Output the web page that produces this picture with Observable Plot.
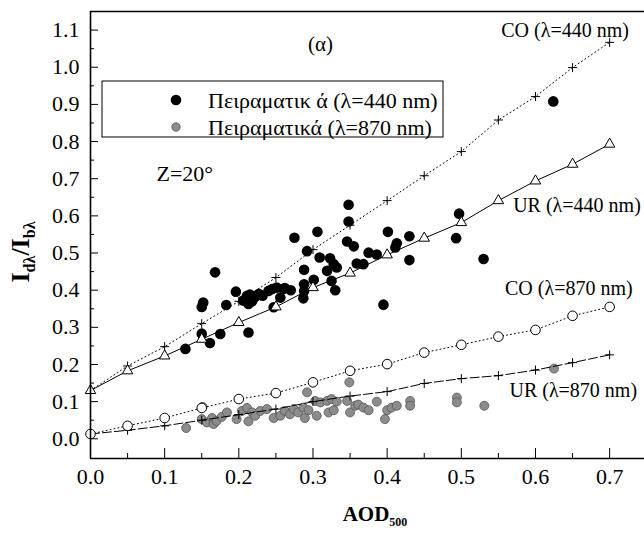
<!DOCTYPE html>
<html><head><meta charset="utf-8">
<script src="https://cdn.jsdelivr.net/npm/d3@7"></script>
<script src="https://cdn.jsdelivr.net/npm/@observablehq/plot@0.6"></script>
<style>body{margin:0;background:#fff}</style>
</head><body><div id="chart"></div>
<script>
// Model curves (AOD500 grid)
const aodModel = [0,0.05,0.1,0.15,0.2,0.25,0.3,0.35,0.4,0.45,0.5,0.55,0.6,0.65,0.7];
const co440 = [0.13,0.196,0.248,0.310,0.37,0.434,0.509,0.575,0.641,0.708,0.773,0.858,0.921,0.999,1.067];
const ur440 = [0.13,0.183,0.223,0.268,0.313,0.355,0.407,0.446,0.495,0.540,0.582,0.641,0.694,0.739,0.793];
const co870 = [0.013,0.035,0.056,0.083,0.107,0.123,0.152,0.183,0.201,0.232,0.253,0.275,0.293,0.331,0.355];
const ur870 = [0.013,0.023,0.035,0.05,0.065,0.08,0.1,0.115,0.127,0.149,0.162,0.170,0.185,0.205,0.226];

// Measurements λ=440 nm
const meas440X = [0.128,0.150,0.161,0.175,0.213,0.150,0.152,0.168,0.183,0.196,0.206,0.213,0.211,0.215,0.222,0.227,0.218,0.232,0.240,0.245,0.251,0.260,0.256,0.262,0.247,0.270,0.275,0.287,0.288,0.288,0.288,0.292,0.301,0.306,0.309,0.319,0.323,0.328,0.332,0.325,0.330,0.348,0.348,0.346,0.355,0.359,0.368,0.375,0.386,0.395,0.401,0.411,0.413,0.430,0.430,0.493,0.497,0.530,0.624];
const meas440Y = [0.242,0.283,0.258,0.282,0.286,0.355,0.367,0.448,0.360,0.396,0.372,0.363,0.385,0.388,0.382,0.390,0.370,0.385,0.398,0.403,0.407,0.403,0.380,0.406,0.354,0.400,0.541,0.378,0.398,0.416,0.455,0.505,0.428,0.557,0.488,0.452,0.486,0.470,0.461,0.425,0.400,0.630,0.585,0.531,0.518,0.472,0.470,0.501,0.496,0.361,0.557,0.515,0.526,0.545,0.481,0.540,0.606,0.484,0.908];

// Measurements λ=870 nm
const meas870X = [0.129,0.151,0.150,0.157,0.164,0.166,0.170,0.177,0.184,0.197,0.204,0.211,0.218,0.213,0.222,0.229,0.238,0.247,0.256,0.262,0.269,0.274,0.280,0.289,0.292,0.287,0.294,0.303,0.305,0.310,0.319,0.321,0.325,0.328,0.332,0.349,0.346,0.350,0.357,0.361,0.368,0.375,0.386,0.397,0.400,0.406,0.413,0.431,0.431,0.494,0.494,0.531,0.625];
const meas870Y = [0.029,0.086,0.053,0.044,0.056,0.040,0.048,0.059,0.071,0.053,0.075,0.083,0.071,0.047,0.062,0.075,0.080,0.056,0.062,0.075,0.066,0.080,0.071,0.056,0.125,0.084,0.077,0.102,0.062,0.098,0.102,0.071,0.107,0.077,0.100,0.152,0.102,0.071,0.089,0.092,0.084,0.077,0.100,0.053,0.077,0.084,0.089,0.102,0.089,0.111,0.098,0.089,0.189];

const xMajor = [0,0.1,0.2,0.3,0.4,0.5,0.6,0.7];
const xMinor = [0.05,0.15,0.25,0.35,0.45,0.55,0.65];
const yMajor = [0,0.1,0.2,0.3,0.4,0.5,0.6,0.7,0.8,0.9,1.0,1.1];
const yMinor = [0.05,0.15,0.25,0.35,0.45,0.55,0.65,0.75,0.85,0.95,1.05];

const curveLabels = ["CO (λ=440 nm)", "UR (λ=440 nm)", "CO (λ=870 nm)", "UR (λ=870 nm)"];
const legendLabels = ["Πειραματικ ά (λ=440 nm)", "Πειραματικά (λ=870 nm)"];

const xDomain = [0, 0.747];
const yDomain = [-0.053, 1.15];

const model = aodModel.map((a, i) => ({a, co440: co440[i], ur440: ur440[i], co870: co870[i], ur870: ur870[i]}));
const modelNoZero = model.filter(d => d.a > 0);
const m440 = meas440X.map((x, i) => ({x, y: meas440Y[i]}));
const m870 = meas870X.map((x, i) => ({x, y: meas870Y[i]}));

// annotation anchors (data coords)
const curveLabelPos = [[0.726,1.098],[0.742,0.627],[0.731,0.404],[0.737,0.129]];
const annot = curveLabels.map((t, i) => ({t, x: curveLabelPos[i][0], y: curveLabelPos[i][1]}));

const serif = "Liberation Serif";
const grayFill = "#8c8c8c", grayStroke = "#555";

const plot = Plot.plot({
  width: 644, height: 540,
  marginLeft: 90, marginRight: 0, marginTop: 11, marginBottom: 82,
  style: {fontFamily: serif, fontSize: "22px", background: "white", color: "black"},
  x: {domain: xDomain},
  y: {domain: yDomain},
  marks: [
    Plot.dot(m870, {x: "x", y: "y", r: 4.5, fill: grayFill, stroke: grayStroke, strokeWidth: 0.8}),
    Plot.dot(m440, {x: "x", y: "y", r: 5.3, fill: "black"}),
    Plot.line(model, {x: "a", y: "co440", stroke: "black", strokeWidth: 1, strokeDasharray: "1,3"}),
    Plot.line(model, {x: "a", y: "ur440", stroke: "black", strokeWidth: 1}),
    Plot.line(model, {x: "a", y: "co870", stroke: "black", strokeWidth: 1, strokeDasharray: "1,3"}),
    Plot.line(model, {x: "a", y: "ur870", stroke: "black", strokeWidth: 1, strokeDasharray: "9,3"}),
    Plot.dot(modelNoZero, {x: "a", y: "co440", symbol: "plus", r: 3, stroke: "black", strokeWidth: 1}),
    Plot.dot(modelNoZero, {x: "a", y: "ur870", symbol: "plus", r: 3, stroke: "black", strokeWidth: 1}),
    Plot.dot(model, {x: "a", y: "ur440", symbol: "triangle", r: 3.9, fill: "white", stroke: "black", strokeWidth: 1}),
    Plot.dot(model, {x: "a", y: "co870", symbol: "circle", r: 4.8, fill: "white", stroke: "black", strokeWidth: 1}),
    Plot.text(annot, {x: "x", y: "y", text: "t", textAnchor: "end", fontSize: 20, fontFamily: serif, fill: "black"}),
    Plot.text(["(α)"], {x: [0.310], y: [1.063], fontSize: 21, fontFamily: serif, fill: "black"}),
    Plot.text(["Z=20°"], {x: [0.089], y: [0.713], textAnchor: "start", fontSize: 22, fontFamily: serif, fill: "black"}),
    Plot.ruleX([xDomain[0]], {stroke: "black", strokeWidth: 1.6}),
    Plot.ruleY([yDomain[0]], {stroke: "black", strokeWidth: 1.6}),
    Plot.ruleY([yDomain[1]], {stroke: "black", strokeWidth: 1.6}),
    Plot.axisX({ticks: xMajor, tickSize: -10, tickPadding: 20, tickFormat: d3.format(".1f"), label: null, fontSize: 22, fontFamily: serif}),
    Plot.axisX({ticks: xMinor, tickSize: -5, fill: "none", label: null}),
    Plot.axisY({ticks: yMajor, tickSize: -8, tickPadding: 19, tickFormat: d3.format(".1f"), label: null, fontSize: 22, fontFamily: serif}),
    Plot.axisY({ticks: yMinor, tickSize: -4, fill: "none", label: null})
  ]
});

const svg = d3.select(plot);
svg.style("font-family", serif);
svg.selectAll("text").attr("font-family", serif);

// Legend box
const lg = svg.append("g").attr("font-family", serif).attr("font-size", 22).attr("text-anchor", "start");
lg.append("rect").attr("x", 102).attr("y", 81).attr("width", 341).attr("height", 56)
  .attr("fill", "white").attr("stroke", "black").attr("stroke-width", 1);
lg.append("circle").attr("cx", 176).attr("cy", 100).attr("r", 5.3).attr("fill", "black");
lg.append("circle").attr("cx", 176).attr("cy", 127).attr("r", 4.2).attr("fill", grayFill).attr("stroke", grayStroke).attr("stroke-width", 0.8);
lg.append("text").attr("x", 208).attr("y", 100).attr("dy", "0.35em").attr("text-anchor", "start").text(legendLabels[0]);
lg.append("text").attr("x", 208).attr("y", 127).attr("dy", "0.35em").attr("text-anchor", "start").text(legendLabels[1]);

// Axis titles
const xt = svg.append("text").attr("x", 375).attr("y", 521).attr("text-anchor", "middle")
  .attr("font-family", serif).attr("font-size", 21).attr("font-weight", "bold");
xt.append("tspan").text("AOD");
xt.append("tspan").attr("font-size", 12).attr("dy", 5).text("500");

const yt = svg.append("text").attr("transform", "translate(29,252) rotate(-90)").attr("text-anchor", "middle")
  .attr("font-family", serif).attr("font-size", 26).attr("font-weight", "bold");
yt.append("tspan").text("I");
yt.append("tspan").attr("font-size", 16).attr("dy", 6).text("dλ");
yt.append("tspan").attr("dy", -6).text("/I");
yt.append("tspan").attr("font-size", 16).attr("dy", 6).text("bλ");

document.getElementById("chart").appendChild(plot);
</script>
</body></html>
